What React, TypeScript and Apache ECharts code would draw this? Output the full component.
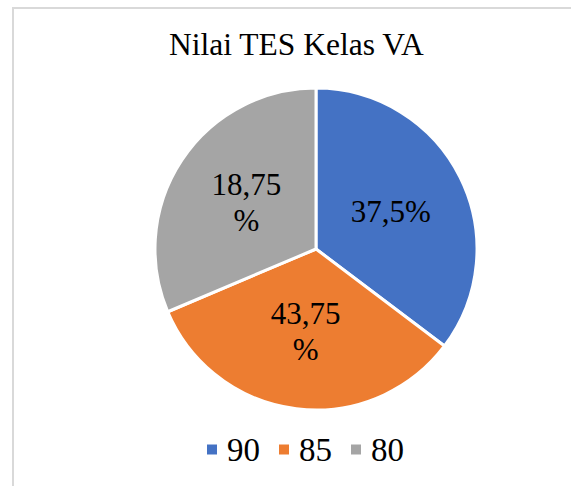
import React, { useEffect, useRef } from "react";
import * as echarts from "echarts";

const categories = ["90", "85", "80"];
const values = [90, 85, 80];
const sliceLabels = ["37,5%", "43,75\n%", "18,75\n%"];
const colors = ["#4472C4", "#ED7D31", "#A5A5A5"];
const titleText = "Nilai TES Kelas VA";

const FONT = "Liberation Serif";

export default function App() {
  const ref = useRef<HTMLDivElement>(null);
  useEffect(() => {
    if (!ref.current) return;
    const chart = echarts.init(ref.current, undefined, { renderer: "svg" });
    chart.setOption({
      animation: false,
      backgroundColor: "#ffffff",
      title: {
        text: titleText,
        left: 169,
        top: 28,
        padding: 0,
        textStyle: { fontFamily: FONT, fontSize: 31.5, fontWeight: "normal", color: "#000000" },
      },
      legend: {
        data: categories,
        left: 205,
        top: 433,
        padding: 0,
        icon: "rect",
        itemWidth: 12,
        itemHeight: 12,
        itemGap: 17,
        textStyle: { fontFamily: FONT, fontSize: 33, color: "#000000", padding: [0, 0, 0, 4] },
      },
      graphic: [
        { type: "line", shape: { x1: 12.5, y1: 8, x2: 571, y2: 8 }, style: { stroke: "#d9d9d9", lineWidth: 2 } },
        { type: "line", shape: { x1: 13, y1: 7, x2: 13, y2: 486 }, style: { stroke: "#d9d9d9", lineWidth: 2 } },
      ],
      series: [
        {
          type: "pie",
          center: [316, 249],
          radius: 161,
          startAngle: 90,
          clockwise: true,
          avoidLabelOverlap: false,
          itemStyle: { borderColor: "#ffffff", borderWidth: 3 },
          emphasis: { disabled: true },
          label: {
            show: true,
            position: "inside",
            fontFamily: FONT,
            fontSize: 31,
            lineHeight: 36,
            color: "#000000",
            align: "center",
            formatter: (p: any) => sliceLabels[p.dataIndex],
          },
          labelLine: { show: false },
          data: categories.map((c, i) => ({ name: c, value: values[i], itemStyle: { color: colors[i] } })),
        },
      ],
    });
    return () => chart.dispose();
  }, []);
  return <div ref={ref} style={{ position: "fixed", left: 0, top: 0, width: 571, height: 486 }} />;
}
